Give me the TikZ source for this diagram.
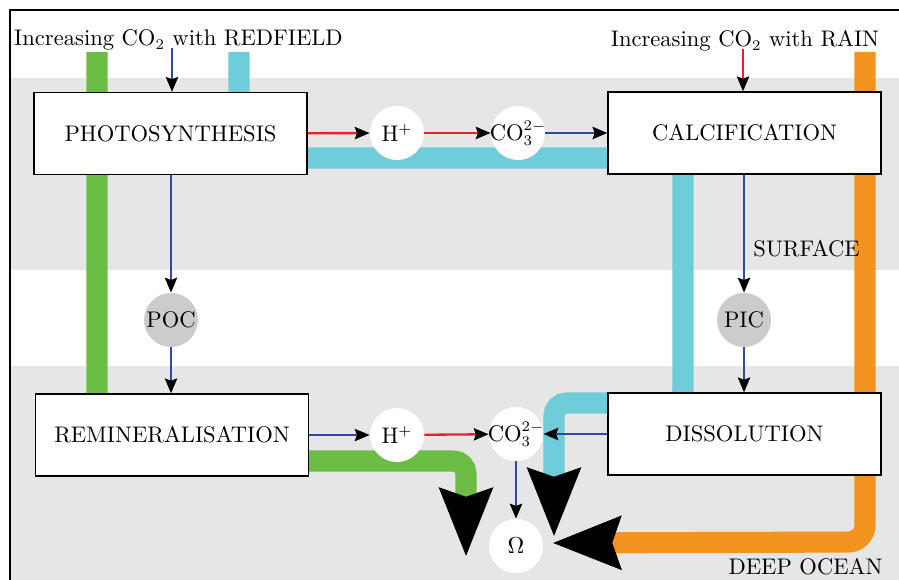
\documentclass[tikz,border=0pt]{standalone}
\usetikzlibrary{arrows.meta}
\definecolor{bandgray}{RGB}{230,230,230}
\definecolor{poolgray}{RGB}{204,204,204}
\definecolor{pipegreen}{RGB}{108,189,69}
\definecolor{pipecyan}{RGB}{111,205,217}
\definecolor{pipeorange}{RGB}{243,148,32}
\definecolor{fluxblue}{RGB}{45,75,165}
\definecolor{fluxred}{RGB}{236,32,40}
\tikzset{
  every node/.style={font=\fontsize{10.7}{12.8}\selectfont},
  pipe/.style={line width=10pt, rounded corners=6pt,
    -{Stealth[length=32pt,width=24pt,inset=3.5pt,color=black]}},
  flux/.style={line width=1.1pt,
    -{Stealth[length=7pt,width=5.8pt,inset=1pt,color=black]}},
  process/.style={draw=black, fill=white, line width=0.6pt,
    minimum width=129.4pt, minimum height=38.9pt, inner sep=0pt},
  ion/.style={circle, fill=white, minimum size=25.6pt, inner sep=0pt},
  pool/.style={circle, fill=poolgray, minimum size=25.6pt, inner sep=0pt},
}
\newcommand{\carbonate}{\makebox[0pt]{CO$_3^{2-}$}}
\begin{document}
\begin{tikzpicture}[x=0.474pt,y=-0.474pt]
\useasboundingbox (0,0) rectangle (899,580);
% ocean layers
\fill[bandgray] (10,78) rectangle (899,270);
\fill[bandgray] (10,366) rectangle (899,580);
\draw[line width=1.3pt] (10,580) -- (10,10) -- (899,10);

% carbon pathways
\draw[pipe, pipegreen] (97,52) -- (97,461) -- (466,461) -- (466,557);
\draw[pipe, pipecyan] (239,52) -- (239,158) -- (683,158) -- (683,403) -- (554,403) -- (554,537);
\draw[pipe, pipeorange, rounded corners=8pt] (865,52) -- (865,542) -- (552,543);

% processes
\node[process] (photo) at (170.5,133.5) {PHOTOSYNTHESIS};
\node[process] (calc)  at (744.5,133)   {CALCIFICATION};
\node[process] (remin) at (172,435)     {REMINERALISATION};
\node[process] (diss)  at (744.5,434)   {DISSOLUTION};

% species
\node[ion]  (hup)    at (397,133) {H$^+$};
\node[ion]  (coup)   at (518,133) {\carbonate};
\node[pool] (poc)    at (171,320) {POC};
\node[pool] (pic)    at (744,320) {PIC};
\node[ion]  (hdown)  at (397,435) {H$^+$};
\node[ion]  (codown) at (516,434) {\carbonate};
\node[ion]  (omega)  at (516,546) {$\Omega$};

% labels
\node (redfield) at (178.5,40) {Increasing CO$_2$ with REDFIELD};
\node (rain) at (745,41) {Increasing CO$_2$ with RAIN};
\node[anchor=west] (surface) at (746,249) {SURFACE};
\node[anchor=east] (deep) at (890,567) {DEEP OCEAN};
\coordinate (redfieldin) at (172,48);
\coordinate (rainin) at (743,49);

% fluxes
\draw[flux, fluxblue] (redfieldin) -- (redfieldin |- photo.north);
\draw[flux, fluxred] (rainin) -- (rainin |- calc.north);
\draw[flux, fluxred] (photo) -- (hup);
\draw[flux, fluxred] (hup) -- (coup);
\draw[flux, fluxblue] (coup) -- (calc);
\draw[flux, fluxblue] (photo.south -| poc) -- (poc);
\draw[flux, fluxblue] (poc) -- (poc |- remin.north);
\draw[flux, fluxblue] (calc.south -| pic) -- (pic);
\draw[flux, fluxblue] (pic) -- (pic |- diss.north);
\draw[flux, fluxblue] (remin) -- (hdown);
\draw[flux, fluxred] (hdown) -- (codown);
\draw[flux, fluxblue] (diss) -- (codown);
\draw[flux, fluxblue] (codown) -- (omega);
\end{tikzpicture}
\end{document}
